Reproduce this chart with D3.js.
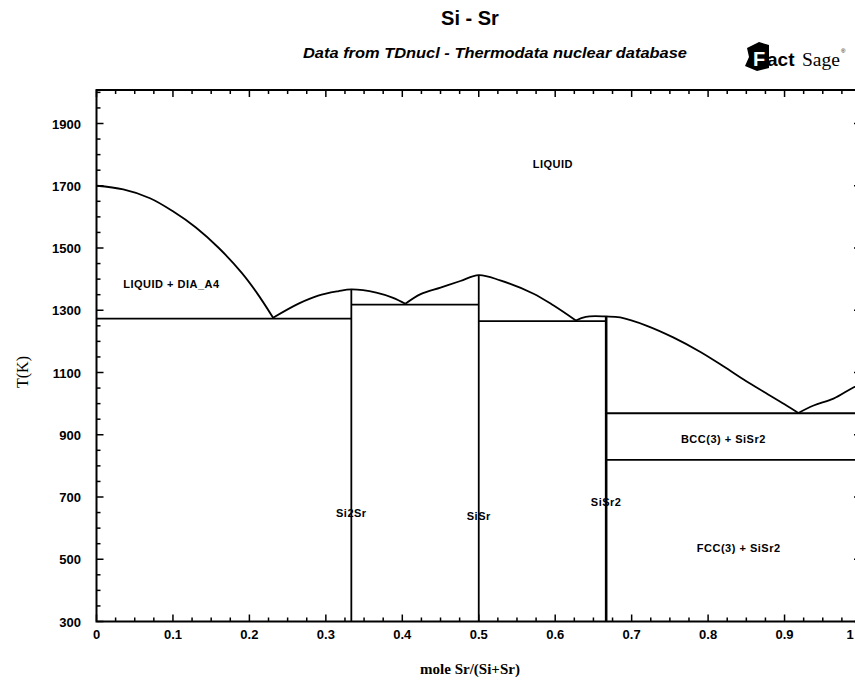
<!DOCTYPE html>
<html>
<head>
<meta charset="utf-8">
<script src="https://cdn.jsdelivr.net/npm/d3@7/dist/d3.min.js"></script>
<style>
  body { margin: 0; background: #fff; }
  svg { display: block; }
  .tick-label { font-family: "Liberation Sans", Arial, sans-serif; font-weight: bold; font-size: 13px; }
  .region { font-family: "Liberation Sans", Arial, sans-serif; font-weight: bold; font-size: 11px; letter-spacing: 0.5px; }
</style>
</head>
<body>
<script>
const width = 855, height = 688;

// liquidus branches, [mole Sr, T(K)]
const liqSi = [[0, 1700], [0.035, 1688], [0.07, 1660], [0.1, 1618], [0.13, 1566], [0.16, 1500], [0.19, 1420], [0.21, 1355], [0.231, 1276]];
const liqSi2Sr = [[0.231, 1276], [0.265, 1322], [0.29, 1347], [0.316, 1361], [1 / 3, 1367], [0.366, 1357], [0.388, 1340], [0.404, 1321]];
const liqSiSr = [[0.404, 1321], [0.424, 1352], [0.45, 1373], [0.476, 1394], [0.5, 1413], [0.528, 1396], [0.571, 1354], [0.598, 1315], [0.627, 1267]];
const liqSiSr2 = [[0.627, 1267], [0.64, 1279], [2 / 3, 1280], [0.685, 1277], [0.72, 1250], [0.755, 1212], [0.79, 1166], [0.82, 1120], [0.85, 1072], [0.875, 1035], [0.9, 998], [0.918, 970]];
const liqSr = [[0.918, 970], [0.938, 994], [0.964, 1016], [0.99, 1052], [1, 1062]];

// invariant lines [x1, x2, T]
const horizontals = [[0, 1 / 3, 1273], [1 / 3, 0.5, 1318], [0.5, 2 / 3, 1265], [2 / 3, 1, 969], [2 / 3, 1, 819]];
// compounds [x, Tmax, label, labelT]
const compounds = [[1 / 3, 1367, "Si2Sr", 650], [0.5, 1413, "SiSr", 640], [2 / 3, 1280, "SiSr2", 683]];

const regions = [["LIQUID", 0.597, 1771], ["LIQUID + DIA_A4", 0.098, 1385], ["BCC(3) + SiSr2", 0.82, 885], ["FCC(3) + SiSr2", 0.84, 535]];

const xTicks = d3.range(0, 1.01, 0.1);
const yTicks = d3.range(300, 1901, 200);

const x = d3.scaleLinear().domain([0, 1]).range([96.5, 861]);
const y = d3.scaleLinear().domain([300, 1900]).range([621.5, 123.5]);
const yTop = 90;

const svg = d3.select("body").append("svg")
  .attr("width", width)
  .attr("height", height);

// titles
svg.append("text")
  .attr("x", 470).attr("y", 25)
  .attr("text-anchor", "middle")
  .style("font-family", "Liberation Sans, Arial, sans-serif")
  .style("font-weight", "bold")
  .style("font-size", "20px")
  .text("Si - Sr");

svg.append("text")
  .attr("x", 495).attr("y", 58)
  .attr("text-anchor", "middle")
  .style("font-family", "Liberation Sans, Arial, sans-serif")
  .style("font-weight", "bold")
  .style("font-style", "italic")
  .style("font-size", "15px")
  .attr("textLength", 384)
  .attr("lengthAdjust", "spacingAndGlyphs")
  .text("Data from TDnucl - Thermodata nuclear database");

// FactSage logo, rough
const logo = svg.append("g").attr("transform", "translate(745,42)");
logo.append("path")
  .attr("d", "M2,6 L14,0 L24,3 L24,26 L12,29 L0,24 L4,15 Z")
  .attr("fill", "#000");
logo.append("text")
  .attr("x", 8).attr("y", 24)
  .style("font-family", "Liberation Sans, Arial, sans-serif")
  .style("font-weight", "bold").style("font-size", "20px")
  .attr("fill", "#fff")
  .text("F");
logo.append("text")
  .attr("x", 22).attr("y", 24)
  .style("font-family", "Liberation Sans, Arial, sans-serif")
  .style("font-weight", "bold").style("font-size", "19px")
  .text("act");
logo.append("text")
  .attr("x", 57).attr("y", 24)
  .style("font-family", "Liberation Serif, serif")
  .style("font-size", "19px")
  .attr("textLength", 38)
  .attr("lengthAdjust", "spacingAndGlyphs")
  .text("Sage");
logo.append("text")
  .attr("x", 96).attr("y", 11)
  .style("font-family", "Liberation Sans, Arial, sans-serif")
  .style("font-size", "6px")
  .text("®");

const plot = svg.append("g");

// frame
plot.append("path")
  .attr("d", `M${x(1)},${yTop} L${x(0)},${yTop} L${x(0)},${y(300)} L${x(1)},${y(300)}`)
  .attr("fill", "none").attr("stroke", "#000").attr("stroke-width", 2);
plot.append("line")
  .attr("x1", x(1)).attr("x2", x(1)).attr("y1", yTop).attr("y2", y(300))
  .attr("stroke", "#000").attr("stroke-width", 2);

// ticks
const xMinor = d3.range(0, 1.001, 0.025);
xMinor.forEach(function (v, i) {
  const len = i % 4 === 0 ? 7 : 4;
  plot.append("line").attr("x1", x(v)).attr("x2", x(v))
    .attr("y1", y(300)).attr("y2", y(300) - len)
    .attr("stroke", "#000").attr("stroke-width", 1.5);
  plot.append("line").attr("x1", x(v)).attr("x2", x(v))
    .attr("y1", yTop).attr("y2", yTop + len)
    .attr("stroke", "#000").attr("stroke-width", 1.5);
});
const yMinor = d3.range(300, 2001, 50);
yMinor.forEach(function (t, i) {
  const len = i % 4 === 0 ? 7 : 4;
  plot.append("line").attr("x1", x(0)).attr("x2", x(0) + len)
    .attr("y1", y(t)).attr("y2", y(t))
    .attr("stroke", "#000").attr("stroke-width", 1.5);
  plot.append("line").attr("x1", x(1)).attr("x2", x(1) - len)
    .attr("y1", y(t)).attr("y2", y(t))
    .attr("stroke", "#000").attr("stroke-width", 1.5);
});

// tick labels (the last one sits at the window edge)
svg.selectAll(".xl").data(xTicks).enter().append("text")
  .attr("class", "tick-label")
  .attr("x", function (d) { return Math.min(x(d), 850); })
  .attr("y", 639)
  .attr("text-anchor", "middle")
  .text(function (d) { return d === 0 ? "0" : (Math.abs(d - 1) < 1e-9 ? "1" : d3.format(".1f")(d)); });

svg.selectAll(".yl").data(yTicks).enter().append("text")
  .attr("class", "tick-label")
  .attr("x", 81)
  .attr("y", function (d) { return y(d) + 5; })
  .attr("text-anchor", "end")
  .text(function (d) { return d; });

// axis titles
svg.append("text")
  .attr("transform", "translate(28,372) rotate(-90)")
  .attr("text-anchor", "middle")
  .style("font-family", "Liberation Serif, Times New Roman, serif")
  .style("font-size", "16px")
  .text("T(K)");

svg.append("text")
  .attr("x", 470).attr("y", 674)
  .attr("text-anchor", "middle")
  .style("font-family", "Liberation Serif, Times New Roman, serif")
  .style("font-weight", "bold")
  .style("font-size", "15px")
  .text("mole Sr/(Si+Sr)");

// phase boundaries
const line = d3.line()
  .x(function (d) { return x(d[0]); })
  .y(function (d) { return y(d[1]); })
  .curve(d3.curveCatmullRom.alpha(0.5));

[liqSi, liqSi2Sr, liqSiSr, liqSiSr2, liqSr].forEach(function (b) {
  plot.append("path").datum(b)
    .attr("d", line)
    .attr("fill", "none").attr("stroke", "#000").attr("stroke-width", 1.8);
});

plot.selectAll(".h").data(horizontals).enter().append("line")
  .attr("x1", function (d) { return x(d[0]); })
  .attr("x2", function (d) { return x(d[1]); })
  .attr("y1", function (d) { return y(d[2]); })
  .attr("y2", function (d) { return y(d[2]); })
  .attr("stroke", "#000").attr("stroke-width", 1.8);

plot.selectAll(".v").data(compounds).enter().append("line")
  .attr("x1", function (d) { return x(d[0]); })
  .attr("x2", function (d) { return x(d[0]); })
  .attr("y1", y(300))
  .attr("y2", function (d) { return y(d[1]); })
  .attr("stroke", "#000")
  .attr("stroke-width", function (d, i) { return i === 2 ? 2.6 : 1.8; });

plot.selectAll(".cl").data(compounds).enter().append("text")
  .attr("class", "region")
  .attr("x", function (d) { return x(d[0]); })
  .attr("y", function (d) { return y(d[3]) + 4; })
  .attr("text-anchor", "middle")
  .text(function (d) { return d[2]; });

plot.selectAll(".rl").data(regions).enter().append("text")
  .attr("class", "region")
  .attr("x", function (d) { return x(d[1]); })
  .attr("y", function (d) { return y(d[2]) + 4; })
  .attr("text-anchor", "middle")
  .text(function (d) { return d[0]; });
</script>
</body>
</html>
